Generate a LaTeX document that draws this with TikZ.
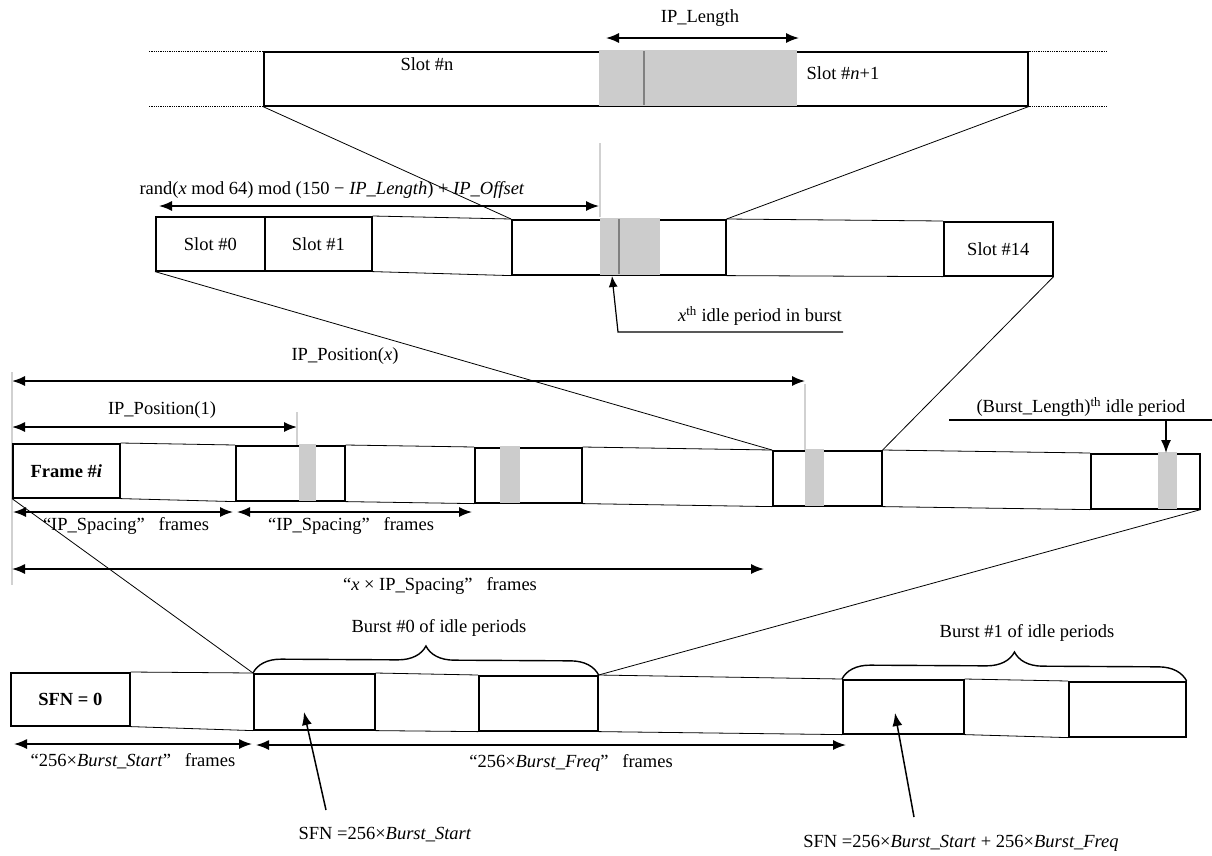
\documentclass[tikz,border=0pt]{standalone}
\usepackage{fontspec}
\setmainfont{Liberation Serif}
\usetikzlibrary{arrows.meta,decorations.pathreplacing}
\begin{document}
\begin{tikzpicture}[x=1pt,y=-1pt,
  font=\fontsize{18.5}{22}\selectfont,
  box/.style={draw, line width=1.6pt, anchor=north west, inner sep=0pt},
  shadebox/.style={fill=black!20, draw=none, anchor=north west, inner sep=0pt, outer sep=0pt},
  idline/.style={draw=black!50, line width=1.6pt},
  stripline/.style={line width=0.8pt},
  projline/.style={line width=0.8pt},
  dotline/.style={line width=0.8pt, densely dotted},
  guide/.style={draw=black!18, line width=1.4pt},
  dimarrow/.style={line width=1.5pt, {Latex[length=13pt,width=10pt]}-{Latex[length=13pt,width=10pt]}},
  onearrow/.style={line width=1.5pt, -{Latex[length=13pt,width=10pt]}},
  callarrow/.style={line width=1.2pt, -{Latex[length=11pt,width=9pt]}},
  bracedeco/.style={decorate, decoration={brace, amplitude=28pt}, line width=1.4pt},
  lbl/.style={inner sep=0pt}
]
\useasboundingbox (0,0) rectangle (1212,855);

% ---------- top: slots n and n+1 ----------
\node[lbl] (iplen) at (700,18) {IP\_Length};
\coordinate (iplA) at (606,38);
\coordinate (iplB) at (799,38);
\draw[dimarrow] (iplA) -- (iplB);

\node[box, minimum width=764pt, minimum height=54pt] (top) at (263,51) {};
\node[shadebox, minimum width=198pt, minimum height=56pt] (topsh) at (599,50) {};
\draw[idline] (644,51) -- (644,105);
\node[lbl] (slotn) at (427,64) {Slot \#n};
\node[lbl] (slotn1) at (843,73) {Slot \#\textit{n}+1};
\draw[dotline] (top.north west) -- ++(-115,0);
\draw[dotline] (top.south west) -- ++(-115,0);
\draw[dotline] (top.north east) -- ++(78,0);
\draw[dotline] (top.south east) -- ++(78,0);
\draw[guide] (600,143) -- (600,217);

% ---------- row 2: slots of a frame ----------
\node[lbl] (formula) at (332,190) {rand(\textit{x} mod 64) mod (150 − \textit{IP\_Length}) + \textit{IP\_Offset}};
\coordinate (fA) at (159,206);
\coordinate (fB) at (599,206);
\draw[dimarrow] (fA) -- (fB);

\node[box, minimum width=109pt, minimum height=54pt] (s0) at (155,216) {Slot \#0};
\node[box, minimum width=107pt, minimum height=54pt] (s1) at (264,216) {Slot \#1};
\node[box, minimum width=214pt, minimum height=55pt] (mid) at (511,219) {};
\node[shadebox, minimum width=60pt, minimum height=57pt] (midsh) at (600,218) {};
\draw[idline] (619,219) -- (619,274);
\node[box, minimum width=109pt, minimum height=54pt] (s14) at (943,221) {Slot \#14};
\draw[stripline] (s1.north east) -- (mid.north west);
\draw[stripline] (s1.south east) -- (mid.south west);
\draw[stripline] (mid.north east) -- (s14.north west);
\draw[stripline] (mid.south east) -- (s14.south west);

\draw[projline] (top.south west) -- (mid.north west);
\draw[projline] (top.south east) -- (mid.north east);

\node[lbl] (xlab) at (760,316) {\textit{x}\textsuperscript{th} idle period in burst};
\coordinate (xend) at (843,332);
\coordinate (xbend) at (618,332);
\coordinate (xtip) at (612,276);
\draw[callarrow] (xend) -- (xbend) -- (xtip);

% ---------- row 3: frames ----------
\node[lbl] (ipposx) at (345,356) {IP\_Position(\textit{x})};
\coordinate (pxA) at (12,381);
\coordinate (pxB) at (805,381);
\draw[dimarrow] (pxA) -- (pxB);
\node[lbl] (ippos1) at (162,410) {IP\_Position(1)};
\coordinate (p1A) at (12,427);
\coordinate (p1B) at (297,427);
\draw[dimarrow] (p1A) -- (p1B);
\draw[guide] (12,372) -- (12,585);
\draw[guide] (297,412) -- (297,445);
\draw[guide] (805,384) -- (805,450);

\node[box, minimum width=107pt, minimum height=54pt] (f0) at (12,443) {\bfseries Frame \#\textit{i}};
\node[box, minimum width=109pt, minimum height=55pt] (f1) at (235,445) {};
\node[shadebox, minimum width=17pt, minimum height=57pt] (f1sh) at (299,444) {};
\node[box, minimum width=107pt, minimum height=55pt] (f2) at (474,447) {};
\node[shadebox, minimum width=20pt, minimum height=57pt] (f2sh) at (500,446) {};
\node[box, minimum width=109pt, minimum height=55pt] (f3) at (772,450) {};
\node[shadebox, minimum width=19pt, minimum height=57pt] (f3sh) at (805,449) {};
\node[box, minimum width=109pt, minimum height=55pt] (f4) at (1090,453) {};
\node[shadebox, minimum width=19pt, minimum height=57pt] (f4sh) at (1158,452) {};
\draw[stripline] (f0.north east) -- (f1.north west);
\draw[stripline] (f0.south east) -- (f1.south west);
\draw[stripline] (f1.north east) -- (f2.north west);
\draw[stripline] (f1.south east) -- (f2.south west);
\draw[stripline] (f2.north east) -- (f3.north west);
\draw[stripline] (f2.south east) -- (f3.south west);
\draw[stripline] (f3.north east) -- (f4.north west);
\draw[stripline] (f3.south east) -- (f4.south west);

\draw[projline] (s0.south west) -- (f3.north west);
\draw[projline] (s14.south east) -- (f3.north east);

\node[lbl] (blen) at (1081,407) {(Burst\_Length)\textsuperscript{th} idle period};
\coordinate (blA) at (949,420);
\coordinate (blB) at (1212,420);
\coordinate (blC) at (1166,420);
\draw[line width=1.2pt] (blA) -- (blB);
\draw[onearrow] (blC) -- (blC |- f4.north);

\coordinate (sa1) at (13,512);
\coordinate (sa2) at (233,512);
\coordinate (sa3) at (237,512);
\coordinate (sa4) at (472,512);
\draw[dimarrow] (sa1) -- (sa2);
\draw[dimarrow] (sa3) -- (sa4);
\node[lbl] (sp1) at (126,526) {“IP\_Spacing”\ \ \ frames};
\node[lbl] (sp2) at (351,526) {“IP\_Spacing”\ \ \ frames};
\coordinate (xs1) at (12,569);
\coordinate (xs2) at (764,569);
\draw[dimarrow] (xs1) -- (xs2);
\node[lbl] (xsp) at (440,586) {“\textit{x} × IP\_Spacing”\ \ \ frames};

% ---------- row 4: system frames ----------
\node[box, minimum width=119pt, minimum height=53pt] (sfn0) at (10,672) {\bfseries SFN = 0};
\node[box, minimum width=121pt, minimum height=56pt] (b0a) at (253,673) {};
\node[box, minimum width=119pt, minimum height=55pt] (b0b) at (478,675) {};
\node[box, minimum width=121pt, minimum height=54pt] (b1a) at (842,679) {};
\node[box, minimum width=117pt, minimum height=55pt] (b1b) at (1068,681) {};
\draw[stripline] (sfn0.north east) -- (b0a.north west);
\draw[stripline] (sfn0.south east) -- (b0a.south west);
\draw[stripline] (b0a.north east) -- (b0b.north west);
\draw[stripline] (b0a.south east) -- (b0b.south west);
\draw[stripline] (b0b.north east) -- (b1a.north west);
\draw[stripline] (b0b.south east) -- (b1a.south west);
\draw[stripline] (b1a.north east) -- (b1b.north west);
\draw[stripline] (b1a.south east) -- (b1b.south west);

\draw[projline] (f0.south west) -- (b0a.north west);
\draw[projline] (f4.south east) -- (b0b.north east);

\draw[bracedeco] (b0a.north west) -- (b0b.north east);
\draw[bracedeco] (b1a.north west) -- (b1b.north east);
\node[lbl] (b0lab) at (439,628) {Burst \#0 of idle periods};
\node[lbl] (b1lab) at (1027,633) {Burst \#1 of idle periods};

\coordinate (bsA) at (14,744);
\coordinate (bsB) at (252,744);
\coordinate (bfA) at (256,745);
\coordinate (bfB) at (846,745);
\draw[dimarrow] (bsA) -- (bsB);
\draw[dimarrow] (bfA) -- (bfB);
\node[lbl] (bslab) at (133,761) {“256×\textit{Burst\_Start}”\ \ \ frames};
\node[lbl] (bflab) at (571,763) {“256×\textit{Burst\_Freq}”\ \ \ frames};

\node[lbl] (sfn1) at (385,835) {SFN =256×\textit{Burst\_Start}};
\node[lbl] (sfn2) at (961,843) {SFN =256×\textit{Burst\_Start} + 256×\textit{Burst\_Freq}};
\coordinate (a1s) at (326,810);
\coordinate (a1t) at (304,712);
\coordinate (a2s) at (914,817);
\coordinate (a2t) at (895,713);
\draw[onearrow] (a1s) -- (a1t);
\draw[onearrow] (a2s) -- (a2t);
\end{tikzpicture}
\end{document}
